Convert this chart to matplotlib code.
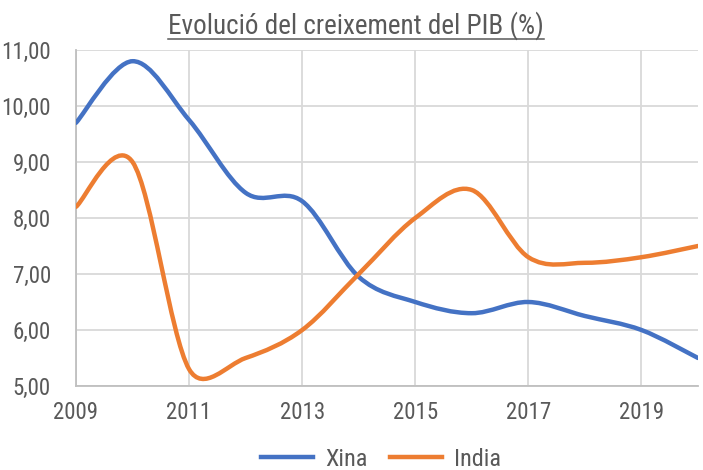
import numpy as np
import matplotlib
matplotlib.use("Agg")
import matplotlib.pyplot as plt
from matplotlib.path import Path
from matplotlib.patches import PathPatch
from matplotlib.lines import Line2D

plt.rcParams['font.family'] = ['Roboto Condensed', 'Liberation Sans Narrow', 'Roboto', 'DejaVu Sans']

# data
years = list(range(2009, 2021))
xina = [9.7, 10.8, 9.75, 8.45, 8.3, 6.95, 6.5, 6.3, 6.5, 6.25, 6.0, 5.5]
india = [8.2, 9.0, 5.3, 5.5, 6.0, 7.0, 8.0, 8.5, 7.3, 7.2, 7.3, 7.5]
x_ticks = [2009, 2011, 2013, 2015, 2017, 2019]
y_ticks = [5, 6, 7, 8, 9, 10, 11]
title = "Evolució del creixement del PIB (%)"

BLUE = "#4472C4"
ORANGE = "#ED7D31"
GREY = "#595959"
GRID = "#D9D9D9"


def ctrl(p_prev, p, p_next, seg_len):
    # tangent offset like Excel: 1/6 of the chord, capped at half the segment
    d = p_next - p_prev
    n = np.hypot(*d)
    f = 1.0 / 6.0
    if n * f > seg_len / 2 and n > 0:
        f = seg_len / 2 / n
    return d * f


def smooth_path(x, y):
    # Excel-like smoothed line: cubic bezier through every point
    pts = np.column_stack([x, y]).astype(float)
    verts = [pts[0]]
    codes = [Path.MOVETO]
    n = len(pts)
    for i in range(n - 1):
        p0 = pts[i - 1] if i > 0 else pts[i]
        p1 = pts[i]
        p2 = pts[i + 1]
        p3 = pts[i + 2] if i + 2 < n else pts[i + 1]
        seg = np.hypot(*(p2 - p1))
        c1 = p1 + ctrl(p0, p1, p2, seg)
        c2 = p2 - ctrl(p1, p2, p3, seg)
        verts += [c1, c2, p2]
        codes += [Path.CURVE4] * 3
    return Path(verts, codes)


fig = plt.figure(figsize=(7.03, 4.70), dpi=100)
ax = fig.add_axes([76 / 703, 84 / 470, (698 - 76) / 703, (386 - 50) / 470])

for series, color in [(xina, BLUE), (india, ORANGE)]:
    ax.add_patch(PathPatch(smooth_path(years, series), facecolor='none',
                           edgecolor=color, lw=3.2, capstyle='round', zorder=3))

ax.set_xlim(2009, 2020)
ax.set_ylim(5, 11)
ax.set_xticks(x_ticks)
ax.set_xticklabels([str(t) for t in x_ticks])
ax.set_yticks(y_ticks)
ax.set_yticklabels([f"{v:.2f}".replace('.', ',') for v in y_ticks])
ax.tick_params(length=0, labelsize=16.5, colors=GREY)
ax.tick_params(axis='y', pad=18)
ax.tick_params(axis='x', pad=11)
ax.grid(True, color=GRID, lw=1.3)
ax.set_axisbelow(True)
for s in ['top', 'right']:
    ax.spines[s].set_visible(False)
for s in ['left', 'bottom']:
    ax.spines[s].set_color("#BFBFBF")
    ax.spines[s].set_linewidth(1.3)

handles = [Line2D([], [], color=BLUE, lw=3.2), Line2D([], [], color=ORANGE, lw=3.2)]
fig.legend(handles, ["Xina", "India"], loc='center', bbox_to_anchor=(381 / 703, 1 - 459 / 470),
           ncol=2, frameon=False, fontsize=17.5, handlelength=2.15, handletextpad=0.5,
           columnspacing=0.9, labelcolor=GREY, borderpad=0)

t = fig.text(356 / 703, 1 - 26 / 470, title, ha='center', va='center', fontsize=19.5, color=GREY)
fig.canvas.draw()
bb = t.get_window_extent()
uy = bb.y0 + 1
fig.add_artist(Line2D([bb.x0 / 703, bb.x1 / 703], [uy / 470, uy / 470], color=GREY, lw=1.1))

fig.savefig("out.png", dpi=100)
